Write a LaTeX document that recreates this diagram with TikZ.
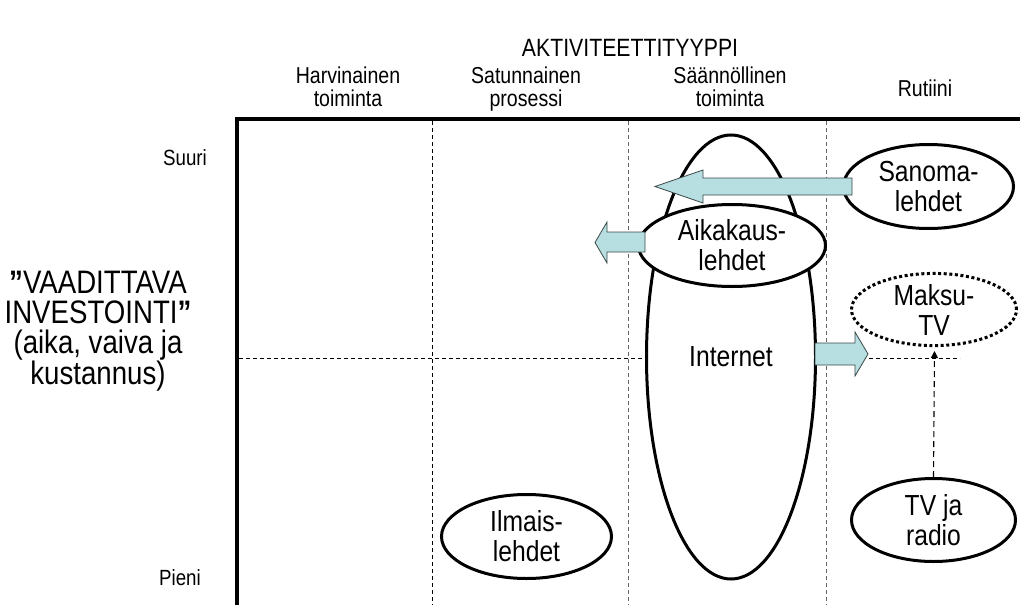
\documentclass[tikz,border=0pt]{standalone}
\usepackage{fontspec}
\setmainfont{Liberation Sans}[FakeStretch=0.85]
\usetikzlibrary{shapes.geometric,arrows.meta}
\definecolor{arrowfill}{HTML}{B7DEE1}
\definecolor{arrowline}{HTML}{3A4848}
\begin{document}
\begin{tikzpicture}[x=1pt,y=-1pt,
  bubble/.style={ellipse, draw=black, line width=3pt, fill=white, inner sep=0pt,
    align=center, font=\fontsize{29}{30}\selectfont},
  dottedbubble/.style={bubble, line width=3pt, dash pattern=on 3pt off 2.6pt},
  header/.style={align=center, font=\fontsize{23}{23}\selectfont},
  rowlabel/.style={font=\fontsize{22}{23}\selectfont},
  gridline/.style={line width=0.9pt, dash pattern=on 4pt off 3pt},
  lightgrid/.style={gridline, draw=black!60},
  axisline/.style={line width=4pt, line join=miter},
  blockarrow/.style={fill=arrowfill, draw=arrowline, line width=0.8pt, line join=miter},
  dasharrow/.style={line width=1.1pt, dash pattern=on 6pt off 4pt,
    -{Triangle[length=7pt,width=7pt]}},
]
\useasboundingbox (0,0) rectangle (1020,605);

% titles
\node[font=\fontsize{25}{25}\selectfont] (title) at (630,47.5) {AKTIVITEETTITYYPPI};
\node[header] (c1) at (348,86.5) {Harvinainen\\toiminta};
\node[header] (c2) at (526,89) {Satunnainen\\prosessi};
\node[header] (c3) at (730,87) {Säännöllinen\\toiminta};
\node[header] (c4) at (925,88) {Rutiini};
\node[rowlabel] (high) at (185,158) {Suuri};
\node[rowlabel] (low) at (180,578) {Pieni};
\node[align=center, font=\fontsize{32.5}{30}\selectfont] (ylabel) at (98,331)
  {\textbf{”}VAADITTAVA\\INVESTOINTI\textbf{”}\\(aika, vaiva ja\\kustannus)};

% grid
\draw[gridline] (432,121) -- (432,605);
\draw[lightgrid] (628,121) -- (628,605);
\draw[lightgrid] (826,121) -- (826,605);
\draw[gridline] (239,358) -- (960,358);

% axes
\draw[axisline] (1020,119) -- (237,119) -- (237,605);

% media bubbles
\node[bubble, minimum width=169pt, minimum height=444pt] (internet) at (731,357) {Internet};
\node[bubble, minimum width=170pt, minimum height=84pt] (sanoma) at (928.5,186.5) {Sanoma-\\lehdet};
\node[dottedbubble, minimum width=165pt, minimum height=72pt] (maksutv) at (934,309.5) {Maksu-\\TV};
\node[bubble, minimum width=164pt, minimum height=83pt] (tvradio) at (933.5,520) {TV ja\\radio};
\node[bubble, minimum width=170pt, minimum height=84pt] (ilmais) at (526.5,536.5) {Ilmais-\\lehdet};
\node[bubble, minimum width=187pt, minimum height=82pt] (aikakaus) at (732,245.5) {Aikakaus-\\lehdet};

% block arrows
\draw[blockarrow] (852,178) -- (703,178) -- (703,170) -- (655,186.5)
  -- (703,203) -- (703,195) -- (852,195) -- cycle;
\draw[blockarrow] (645,232) -- (607,232) -- (607,222) -- (595,242.5)
  -- (607,263) -- (607,252) -- (645,252) -- cycle;
\draw[blockarrow] (815,343) -- (855,343) -- (855,332) -- (868,354)
  -- (855,376) -- (855,365) -- (815,365) -- cycle;

% dashed link from TV ja radio towards Maksu-TV
\coordinate (paytarget) at (934.5,351);
\draw[dasharrow] (tvradio.north) -- (paytarget);
\end{tikzpicture}
\end{document}
